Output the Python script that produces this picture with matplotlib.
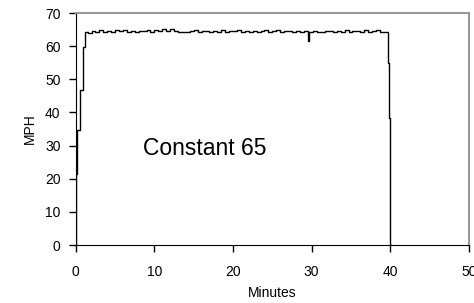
import matplotlib.pyplot as plt

# ramp up / ramp down
rise_t = [0.0, 0.05, 0.2, 0.5, 0.85, 1.15]
rise_v = [0.0, 21.5, 34.8, 46.8, 59.8, 64.3]
fall_t = [39.75, 39.9, 40.0, 40.05]
fall_v = [55.0, 38.3, 0.0, 0.0]

# cruising part before the short dip near 29.5 min (every half minute from 1.5)
cruise1_v = [64.0, 64.5, 64.2, 64.8, 64.3, 64.6, 64.4, 65.0, 64.5, 64.8,
             64.3, 64.6, 64.2, 64.5, 64.6, 64.9, 64.4, 65.0, 64.7, 65.2,
             64.6, 65.1, 64.5, 64.3, 64.4, 64.2, 64.6, 64.8, 64.3, 64.7,
             64.5, 64.2, 64.6, 64.4, 64.9, 64.3, 64.6, 64.5, 64.8, 64.3,
             64.6, 64.4, 64.7, 64.3, 64.5, 64.8, 64.4, 64.6, 64.9, 64.4,
             64.5, 64.6, 64.2, 64.7, 64.4, 64.6]
dip_t = [29.5]
dip_v = [61.5]
# cruising part after the dip (every half minute from 29.7)
cruise2_v = [64.3, 64.7, 64.4, 64.3, 64.6, 64.5, 64.2, 64.6, 64.4, 64.8,
             64.3, 64.5, 64.6, 64.3, 64.8, 64.2, 64.5, 65.0, 64.3, 64.4]
cruise1_t = [1.5 + 0.5 * i for i in range(len(cruise1_v))]
cruise2_t = [29.7 + 0.5 * i for i in range(len(cruise2_v))]

t = rise_t + cruise1_t + dip_t + cruise2_t + fall_t
v = rise_v + cruise1_v + dip_v + cruise2_v + fall_v

plt.rcParams['font.family'] = ['Liberation Sans', 'DejaVu Sans']

fig = plt.figure(figsize=(4.74, 3.03), dpi=100)
ax = fig.add_axes([0.160, 0.191, 0.829, 0.766])
ax.plot(t, v, color='black', linewidth=1.0, drawstyle='steps-post')

ax.set_xlim(0, 50)
ax.set_ylim(0, 70)
ax.set_xticks(range(0, 51, 10))
ax.set_yticks(range(0, 71, 10))
ax.tick_params(axis='x', direction='out', length=5, width=1, labelsize=10, pad=9)
ax.tick_params(axis='y', direction='out', length=5, width=1, labelsize=10, pad=6)
ax.spines['left'].set_color('black')
ax.spines['bottom'].set_color('black')
ax.spines['top'].set_color('#999999')
ax.spines['right'].set_color('#999999')
ax.spines['top'].set_linewidth(1.5)
ax.spines['right'].set_linewidth(1.5)

ax.set_xlabel('Minutes', fontsize=10, labelpad=5)
ax.set_ylabel('MPH', fontsize=10, labelpad=6)
ax.text(16.4, 27.2, 'Constant 65', fontsize=16.5, ha='center', va='baseline')

fig.savefig('out.png', dpi=100)
